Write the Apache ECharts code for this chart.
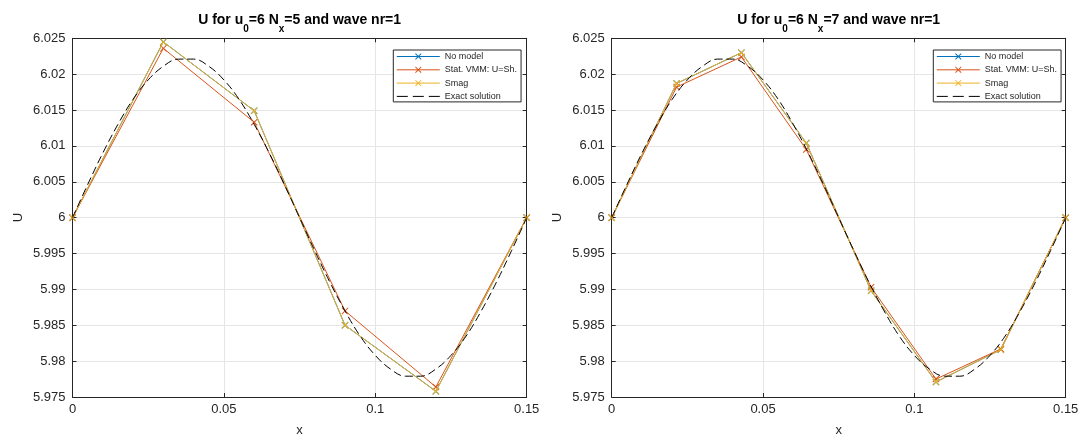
<!DOCTYPE html>
<html>
<head>
<meta charset="utf-8">
<script src="https://cdn.jsdelivr.net/npm/echarts@6/dist/echarts.min.js"></script>
<style>
html,body{margin:0;padding:0;background:#fff;}
#chart{width:1083px;height:442px;}
</style>
</head>
<body>
<div id="chart"></div>
<script>
// ---------- data ----------
const seriesNames = ['No model', 'Stat. VMM: U=Sh.', 'Smag', 'Exact solution'];
const xTicks = [0, 0.05, 0.1, 0.15];
const yTicks = [5.975, 5.98, 5.985, 5.99, 5.995, 6, 6.005, 6.01, 6.015, 6.02, 6.025];

// left panel, Nx = 5
const x5 = [0, 0.03, 0.06, 0.09, 0.12, 0.15];
const noModel5 = [6, 6.0245, 6.0149, 5.9850, 5.9758, 6];
const vmm5 = [6, 6.0236, 6.0133, 5.9870, 5.9764, 6];
const smag5 = [6, 6.0245, 6.0149, 5.9850, 5.9758, 6];

// right panel, Nx = 7
const x7 = [0, 0.02143, 0.04286, 0.06429, 0.08571, 0.10714, 0.12857, 0.15];
const noModel7 = [6, 6.0187, 6.0230, 6.0104, 5.9898, 5.9771, 5.9816, 6];
const vmm7 = [6, 6.0182, 6.0224, 6.0095, 5.9903, 5.9775, 5.9817, 6];
const smag7 = [6, 6.0187, 6.0230, 6.0104, 5.9898, 5.9771, 5.9816, 6];

// exact solution (dashed curve)
const xExact = [0, 0.005, 0.01, 0.015, 0.02, 0.025, 0.03, 0.035, 0.04, 0.045, 0.05, 0.055, 0.06, 0.065, 0.07, 0.075,
  0.08, 0.085, 0.09, 0.095, 0.1, 0.105, 0.11, 0.115, 0.12, 0.125, 0.13, 0.135, 0.14, 0.145, 0.15];
const uExact = [6, 6.0046, 6.0090, 6.0130, 6.0165, 6.0192, 6.0211, 6.0221, 6.0221, 6.0211, 6.0192, 6.0165, 6.0130, 6.0090, 6.0046, 6.0000,
  5.9954, 5.9910, 5.9870, 5.9835, 5.9808, 5.9789, 5.9779, 5.9779, 5.9789, 5.9808, 5.9835, 5.9870, 5.9910, 5.9954, 6];

// ---------- style ----------
const FONT = 'Liberation Sans, Arial, Helvetica, sans-serif';
const AX = '#262626';
const COLORS = ['#0072BD', '#D95319', '#EDB120', '#000000'];
const XSYM = 'path://M0,1L1,0L5,4L9,0L10,1L6,5L10,9L9,10L5,6L1,10L0,9L4,5Z';

const grids = [
  {left: 72.5, top: 38.3, width: 454.2, height: 358.9},
  {left: 611.7, top: 38.3, width: 454.0, height: 358.9}
];

function pairs(xs, ys) { return xs.map((x, i) => [x, ys[i]]); }

const xAxes = [], yAxes = [];
grids.forEach((g, gi) => {
  const base = {
    type: 'value', gridIndex: gi, min: xTicks[0], max: xTicks[xTicks.length - 1], interval: 0.05,
    axisLine: {show: true, onZero: false, lineStyle: {color: AX, width: 1}},
    axisTick: {show: true, inside: true, length: 4, lineStyle: {color: AX}},
  };
  xAxes.push(Object.assign({}, base, {
    position: 'bottom', name: 'x', nameLocation: 'middle', nameGap: 27,
    nameTextStyle: {fontFamily: FONT, fontSize: 13, color: AX},
    axisLabel: {show: true, margin: 6, fontFamily: FONT, fontSize: 13, color: AX},
    splitLine: {show: true, lineStyle: {color: '#e6e6e6', width: 1}}
  }));
  xAxes.push(Object.assign({}, base, {
    position: 'top', axisLabel: {show: false}, splitLine: {show: false}
  }));
  const ybase = {
    type: 'value', gridIndex: gi, min: yTicks[0], max: yTicks[yTicks.length - 1], interval: 0.005,
    axisLine: {show: true, onZero: false, lineStyle: {color: AX, width: 1}},
    axisTick: {show: true, inside: true, length: 4, lineStyle: {color: AX}},
  };
  yAxes.push(Object.assign({}, ybase, {
    position: 'left', name: 'U', nameLocation: 'middle', nameGap: 48, nameRotate: 90,
    nameTextStyle: {fontFamily: FONT, fontSize: 13, color: AX},
    axisLabel: {show: true, margin: 7, fontFamily: FONT, fontSize: 13, color: AX,
      formatter: v => String(parseFloat(v.toFixed(3)))},
    splitLine: {show: true, lineStyle: {color: '#e6e6e6', width: 1}}
  }));
  yAxes.push(Object.assign({}, ybase, {
    position: 'right', axisLabel: {show: false}, splitLine: {show: false}
  }));
});

const panels = [
  {xs: x5, sets: [noModel5, vmm5, smag5], nx: '5'},
  {xs: x7, sets: [noModel7, vmm7, smag7], nx: '7'}
];

const series = [];
panels.forEach((p, pi) => {
  p.sets.forEach((ys, si) => {
    series.push({
      name: seriesNames[si], type: 'line', xAxisIndex: pi * 2, yAxisIndex: pi * 2,
      data: pairs(p.xs, ys), symbol: XSYM, symbolSize: 7, showSymbol: true,
      lineStyle: {color: COLORS[si], width: 1}, itemStyle: {color: COLORS[si]},
      animation: false, z: 2 + si
    });
  });
  series.push({
    name: seriesNames[3], type: 'line', xAxisIndex: pi * 2, yAxisIndex: pi * 2,
    data: pairs(xExact, uExact), symbol: 'none', smooth: 0.4,
    lineStyle: {color: '#000', width: 1, type: [8, 4]}, itemStyle: {color: '#000'},
    animation: false, z: 6
  });
});

const legendLefts = [393.3, 933.3];
const legendData = seriesNames.map((n, i) => i === 3
  ? {name: n, itemStyle: {opacity: 0, color: 'rgba(0,0,0,0)', borderWidth: 0},
     lineStyle: {width: 1, type: [11, 5], color: '#000'}}
  : {name: n});
const legends = legendLefts.map(l => ({
  orient: 'vertical', left: l, top: 50, selectedMode: false,
  data: legendData, itemWidth: 43, itemHeight: 8, itemGap: 4.3,
  padding: [2, 4, 1, 3], borderColor: AX, borderWidth: 1, backgroundColor: '#fff',
  lineStyle: {width: 1},
  textStyle: {fontFamily: FONT, fontSize: 9, color: AX, lineHeight: 8}
}));

const rich = {
  b: {fontFamily: FONT, fontSize: 14, fontWeight: 'bold', lineHeight: 14, verticalAlign: 'top', fill: '#000', color: '#000'},
  s: {fontFamily: FONT, fontSize: 10, fontWeight: 'bold', lineHeight: 10, padding: [11, 0, 0, 0], verticalAlign: 'top', fill: '#000', color: '#000'}
};
const graphics = panels.map((p, pi) => ({
  type: 'text', x: grids[pi].left + grids[pi].width / 2, y: 13, z: 100,
  style: {
    text: '{b|U for u}{s|0}{b|=6 N}{s|x}{b|=' + p.nx + ' and wave nr=1}',
    rich: rich, align: 'center', verticalAlign: 'top'
  }
}));

const chart = echarts.init(document.getElementById('chart'), null, {renderer: 'canvas'});
chart.setOption({
  backgroundColor: '#fff',
  animation: false,
  grid: grids,
  xAxis: xAxes,
  yAxis: yAxes,
  legend: legends,
  series: series,
  graphic: graphics
});
</script>
</body>
</html>
